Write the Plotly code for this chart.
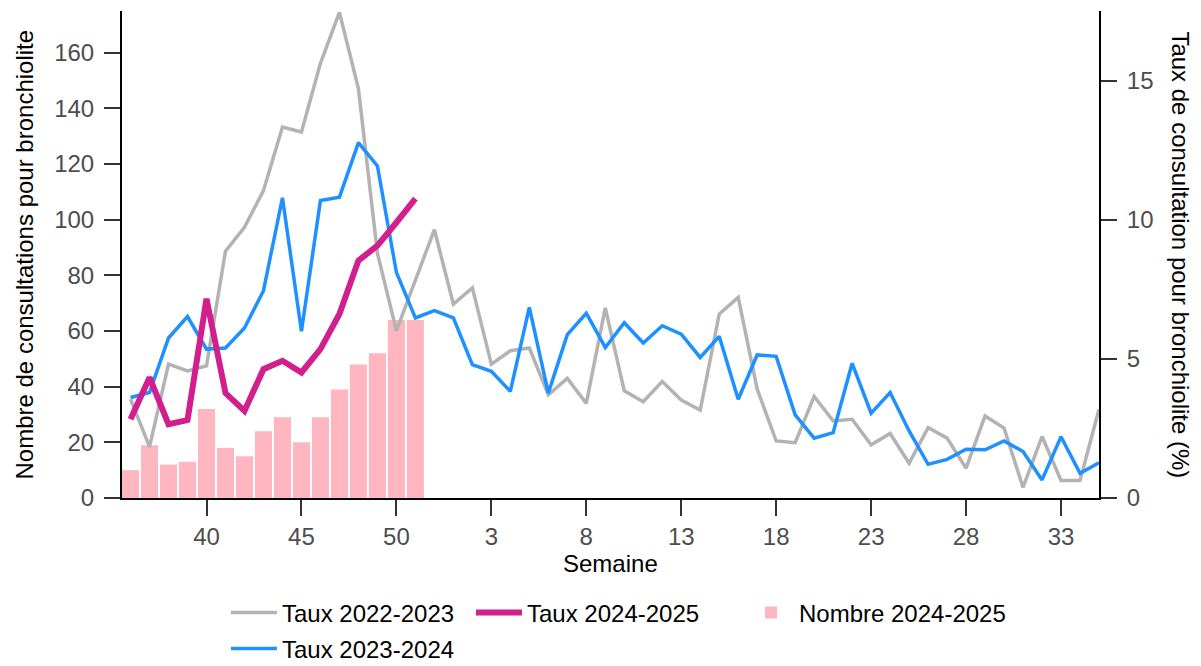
import plotly.graph_objects as go

# semaines de la saison (36 -> 35)
semaines = [str(s) for s in list(range(36, 53)) + list(range(1, 36))]
ticks_semaines = ["40", "45", "50", "3", "8", "13", "18", "23", "28", "33"]

taux_2022_2023 = [
    3.55, 1.84, 4.81, 4.57, 4.75, 8.87, 9.73, 11.05, 13.33, 13.15, 15.62, 17.45, 14.71,
    8.8, 6.01, 7.81, 9.64, 6.97, 7.55, 4.81, 5.29, 5.39, 3.71, 4.3, 3.4, 6.83,
    3.85, 3.46, 4.19, 3.52, 3.16, 6.61, 7.21, 3.91, 2.05, 1.99, 3.65, 2.77, 2.83,
    1.91, 2.32, 1.25, 2.53, 2.15, 1.07, 2.95, 2.51, 0.38, 2.21, 0.63, 0.63, 3.19,
]
taux_2023_2024 = [
    3.61, 3.79, 5.75, 6.52, 5.35, 5.39, 6.11, 7.45, 10.79, 5.99, 10.69, 10.81, 12.77,
    11.93, 8.11, 6.47, 6.73, 6.47, 4.79, 4.55, 3.83, 6.85, 3.77, 5.87, 6.64, 5.41,
    6.3, 5.57, 6.19, 5.89, 5.05, 5.81, 3.55, 5.14, 5.09, 2.99, 2.15, 2.35, 4.84,
    3.05, 3.79, 2.41, 1.21, 1.39, 1.75, 1.73, 2.05, 1.67, 0.65, 2.2, 0.89, 1.27,
]
taux_2024_2025 = [
    2.83, 4.33, 2.65, 2.8, 7.16, 3.77, 3.13, 4.63, 4.93, 4.51, 5.35, 6.61, 8.53, 9.07, 9.9, 10.76,
]
nombre_2024_2025 = [10, 19, 12, 13, 32, 18, 15, 24, 29, 20, 29, 39, 48, 52, 64, 64]

FONT = "Liberation Sans, Arial, sans-serif"
TICK_COLOR = "#4d4d4d"
FS = 24

fig = go.Figure()

fig.add_bar(
    x=semaines[:len(nombre_2024_2025)],
    y=nombre_2024_2025,
    name="Nombre 2024-2025",
    marker_color="#ffb6c1",
    marker_line_width=0,
    legend="legend3",
)
fig.add_scatter(
    x=semaines, y=taux_2022_2023, yaxis="y2", mode="lines",
    name="Taux 2022-2023", line=dict(color="#b3b3b3", width=3.5),
    legend="legend",
)
fig.add_scatter(
    x=semaines, y=taux_2023_2024, yaxis="y2", mode="lines",
    name="Taux 2023-2024", line=dict(color="#1e90ff", width=3.5),
    legend="legend4",
)
fig.add_scatter(
    x=semaines[:len(taux_2024_2025)], y=taux_2024_2025, yaxis="y2", mode="lines",
    name="Taux 2024-2025", line=dict(color="#d11f8e", width=6),
    legend="legend2",
)

axis_common = dict(
    showline=True, linecolor="black", linewidth=2,
    ticks="outside", ticklen=16, tickwidth=2, tickcolor="#333333",
    tickfont=dict(size=FS, color=TICK_COLOR, family=FONT),
    showgrid=False, zeroline=False,
)


def legend_at(x, y):
    return dict(
        orientation="h", x=x, xanchor="left", y=y, yanchor="middle",
        font=dict(size=FS, color="black", family=FONT),
        itemwidth=46, bgcolor="rgba(0,0,0,0)",
    )


# la page html ajoute une marge de 8 px autour de la figure
fig.update_layout(
    width=1193, height=658,
    margin=dict(l=114, r=102, t=3, b=168, autoexpand=False),
    paper_bgcolor="white", plot_bgcolor="white",
    font=dict(family=FONT, size=FS, color="black"),
    bargap=0.1,
    showlegend=True,
    xaxis=dict(
        **axis_common,
        ticklabelstandoff=0,
        type="category",
        categoryorder="array", categoryarray=semaines,
        tickvals=ticks_semaines,
        range=[-0.45, len(semaines) - 1],
    ),
    yaxis=dict(
        **axis_common,
        ticklabelstandoff=5,
        range=[0, 175],
        tickvals=[0, 20, 40, 60, 80, 100, 120, 140, 160],
    ),
    yaxis2=dict(
        **axis_common,
        ticklabelstandoff=5,
        overlaying="y", side="right",
        range=[0, 17.5],
        tickvals=[0, 5, 10, 15],
    ),
    legend=legend_at(0.1064, -0.236),
    legend2=legend_at(0.3572, -0.236),
    legend3=legend_at(0.6356, -0.236),
    legend4=legend_at(0.1064, -0.31),
    annotations=[
        dict(
            text="Nombre de consultations pour bronchiolite",
            xref="paper", yref="paper", x=-0.1003, y=0.5,
            xanchor="center", yanchor="middle", textangle=-90,
            showarrow=False, font=dict(size=FS, color="black"),
        ),
        dict(
            text="Taux de consultation pour bronchiolite (%)",
            xref="paper", yref="paper", x=1.083, y=0.5,
            xanchor="center", yanchor="middle", textangle=90,
            showarrow=False, font=dict(size=FS, color="black"),
        ),
        dict(
            text="Semaine",
            xref="paper", yref="paper", x=0.5, y=-0.1335,
            xanchor="center", yanchor="middle",
            showarrow=False, font=dict(size=FS, color="black"),
        ),
    ],
)

fig.write_html("out.html")
